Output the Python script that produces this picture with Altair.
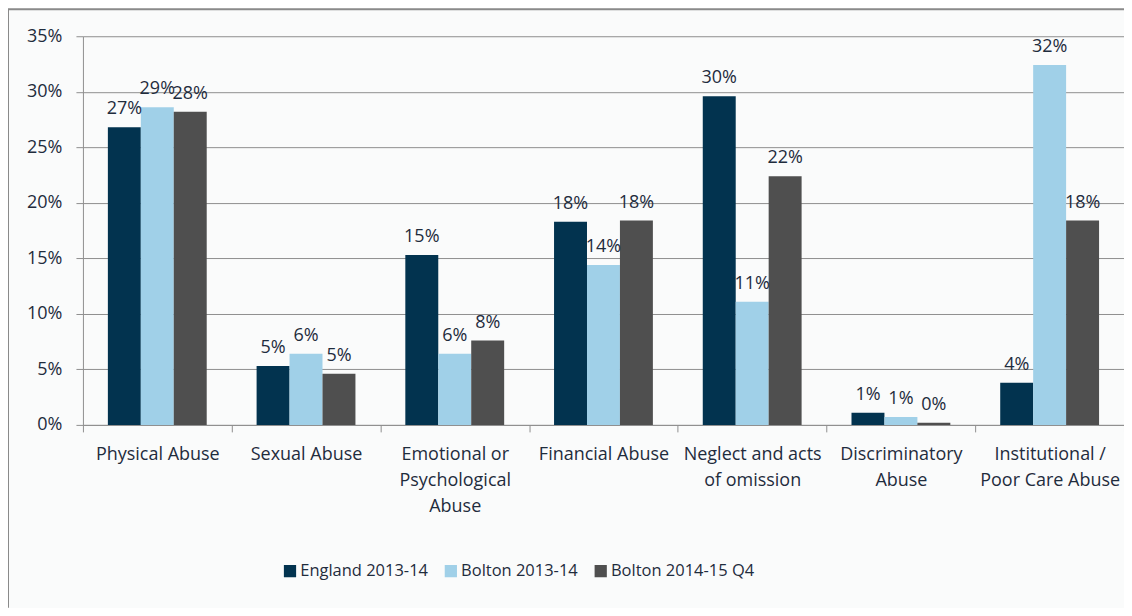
import altair as alt
import pandas as pd

categories = [
    "Physical Abuse",
    "Sexual Abuse",
    "Emotional or|Psychological|Abuse",
    "Financial Abuse",
    "Neglect and acts|of omission",
    "Discriminatory|Abuse",
    "Institutional /|Poor Care Abuse",
]
series = ["England 2013-14", "Bolton 2013-14", "Bolton 2014-15 Q4"]
england_1314 = [0.268, 0.053, 0.153, 0.183, 0.296, 0.011, 0.038]
bolton_1314 = [0.286, 0.064, 0.064, 0.144, 0.111, 0.007, 0.324]
bolton_1415q4 = [0.282, 0.046, 0.076, 0.184, 0.224, 0.002, 0.184]
y_ticks = [0, 0.05, 0.10, 0.15, 0.20, 0.25, 0.30, 0.35]
colors = ["#02334f", "#a0d0e8", "#4f4f4f"]

rows = []
for name, vals in zip(series, [england_1314, bolton_1314, bolton_1415q4]):
    for c, v in zip(categories, vals):
        rows.append({"category": c, "series": name, "value": v})
df = pd.DataFrame(rows)

FONT = "Open Sans"
TXT = "#1f2c3d"
GRID = "#8f8f8f"

x_enc = alt.X(
    "category:N",
    sort=categories,
    title=None,
    scale=alt.Scale(paddingInner=0, paddingOuter=0),
    axis=alt.Axis(
        labelAngle=0,
        labelExpr="split(datum.label, '|')",
        labelFont=FONT,
        labelFontSize=18,
        labelColor=TXT,
        labelLineHeight=26,
        labelPadding=14,
        labelBaseline="top",
        tickBand="extent",
        tickSize=7,
        tickColor=GRID,
        domainColor=GRID,
        grid=False,
        labelLimit=200,
    ),
)
xoff = alt.XOffset(
    "series:N",
    sort=series,
    scale=alt.Scale(paddingInner=0, paddingOuter=0.757),
)
y_enc = alt.Y(
    "value:Q",
    title=None,
    scale=alt.Scale(domain=[0, 0.35], nice=False),
    axis=alt.Axis(
        values=y_ticks,
        format=".0%",
        labelFont=FONT,
        labelFontSize=18,
        labelColor=TXT,
        labelPadding=14,
        tickSize=7,
        tickColor=GRID,
        domainColor=GRID,
        gridColor=GRID,
        gridWidth=1,
    ),
)

base = alt.Chart(df)

bars = base.mark_bar().encode(
    x=x_enc,
    xOffset=xoff,
    y=y_enc,
    color=alt.Color(
        "series:N",
        sort=series,
        scale=alt.Scale(domain=series, range=colors),
        legend=alt.Legend(
            title=None,
            orient="none",
            direction="horizontal",
            legendX=199,
            legendY=527,
            symbolType="square",
            symbolSize=150,
            symbolStrokeWidth=0,
            symbolOffset=0,
            labelFont=FONT,
            labelFontSize=16.5,
            labelColor=TXT,
            labelOffset=2,
            columnPadding=14,
            labelLimit=300,
        ),
    ),
)

labels = base.mark_text(
    baseline="alphabetic", dy=-13, font=FONT, fontSize=18, color=TXT
).encode(
    x=alt.X("category:N", sort=categories),
    xOffset=xoff,
    y="value:Q",
    text=alt.Text("value:Q", format=".0%"),
)

frame = alt.Data(values=[{"k": 1}])
top_border = alt.Chart(frame).mark_rule(color="#8a8a8a", strokeWidth=2).encode(
    x=alt.value(-75), x2=alt.value(1042), y=alt.value(-27)
)
left_border = alt.Chart(frame).mark_rule(color="#8a8a8a", strokeWidth=2).encode(
    x=alt.value(-75), y=alt.value(-27), y2=alt.value(572)
)

chart = (
    alt.layer(bars, labels, top_border, left_border)
    .properties(
        width=1042,
        height=389,
        padding={"left": 75, "top": 28, "right": 0, "bottom": 183},
        autosize=alt.AutoSizeParams(type="none"),
        background="#fafbfb",
    )
    .configure_view(stroke=None)
)

chart.save("out.html", embed_options={"renderer": "svg", "actions": False})
